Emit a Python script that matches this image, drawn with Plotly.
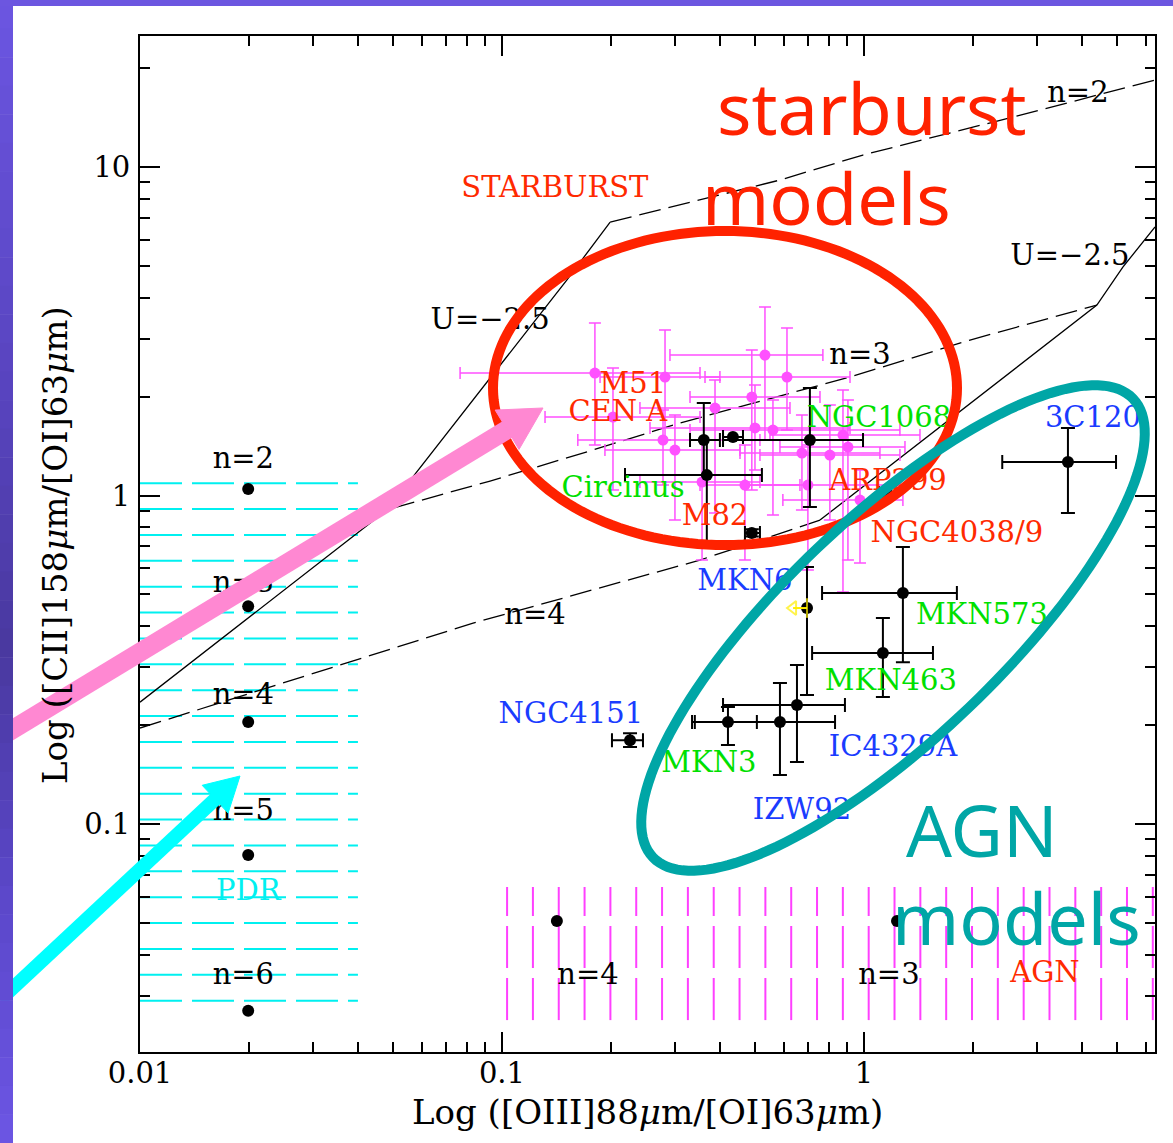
import numpy as np
import plotly.graph_objects as go

# ---------------- data (data units) ----------------
# model grid: constant-U solid lines and constant-density dashed lines
uA_x = [0.01, 0.0481, 0.151, 0.199]
uA_y = [0.235, 0.903, 4.53, 6.80]
uB_x = [0.756, 1.493, 4.40, 5.19, 6.37]
uB_y = [0.842, 1.507, 3.80, 4.96, 6.57]
n2_x = [0.199, 0.586, 0.993, 2.58, 6.37]
n2_y = [6.80, 9.13, 10.88, 14.2, 18.4]
n3_x = [0.050, 0.0927, 0.178, 0.310, 0.915, 1.963, 4.40]
n3_y = [0.916, 1.107, 1.375, 1.663, 2.295, 2.975, 3.80]
n4_x = [0.01, 0.0832, 0.352, 0.756]
n4_y = [0.196, 0.409, 0.636, 0.842]

# starburst galaxies (magenta)
sb_x   = [0.1806, 0.2821, 0.2026, 0.2785, 0.3005, 0.5327, 0.6128, 0.490, 0.3877, 0.4999,
          0.5605, 0.674, 0.805, 0.875, 0.903, 0.357, 0.469, 0.70, 0.975]
sb_xlo = [0.0766, 0.1866, 0.1315, 0.162, 0.1925, 0.2911, 0.3638, 0.3307, 0.2405, 0.2564,
          0.3307, 0.4545, 0.516, 0.55, 0.586, 0.2405, 0.3524, 0.469, 0.597]
sb_xhi = [0.3524, 0.400, 0.3524, 0.516, 0.4545, 0.770, 0.915, 0.756, 0.6246, 0.915,
          1.257, 1.107, 1.257, 1.428, 1.298, 0.516, 0.6655, 1.257, 1.281]
sb_y   = [2.36, 2.295, 1.734, 1.476, 1.375, 2.678, 2.295, 1.994, 1.847, 1.606,
          1.583, 1.347, 1.328, 1.528, 1.405, 1.099, 1.076, 1.076, 0.969]
sb_ylo = [1.424, 1.476, 1.039, 1.076, 0.842, 1.476, 1.583, 1.039, 0.885, 1.196,
          0.872, 0.903, 0.842, 0.5085, 0.636, 0.636, 0.636, 0.593, 0.623]
sb_yhi = [3.35, 3.19, 2.444, 1.821, 1.758, 3.748, 3.235, 2.773, 2.247, 2.17,
          1.953, 1.758, 1.886, 2.096, 1.953, 1.476, 1.424, 1.424, 1.196]

# Seyfert / AGN galaxies (black)
ag_x   = [3.66, 1.281, 1.128, 0.696, 0.653, 0.586, 0.421, 0.2258, 0.709, 0.361, 0.368, 0.4345, 0.490, 1.143]
ag_xlo = [2.41, 0.766, 0.719, 0.696, 0.408, 0.341, 0.335, 0.2013, 0.408, 0.3307, 0.2187, 0.408, 0.469, 1.10]
ag_xhi = [4.97, 1.806, 1.551, 0.696, 0.886, 0.832, 0.506, 0.2452, 0.994, 0.400, 0.5225, 0.4632, 0.516, 1.19]
ag_y   = [1.265, 0.505, 0.3315, 0.4545, 0.2302, 0.2044, 0.2044, 0.180, 1.476, 1.476, 1.154, 1.507, 0.769, 1.018]
ag_ylo = [0.885, 0.311, 0.2435, 0.247, 0.1544, 0.141, 0.174, 0.1716, 0.923, 1.154, 0.697, 1.507, 0.75, 1.0]
ag_yhi = [1.606, 0.697, 0.424, 0.606, 0.305, 0.2687, 0.227, 0.189, 2.124, 1.912, 1.476, 1.507, 0.79, 1.04]

# MKN6 upper limit arrow
lim_x = [0.696, 0.637]
lim_y = [0.4545, 0.4545]

# PDR model points and AGN model points
pdr_x = [0.0199, 0.0199, 0.0199, 0.0199, 0.0199]
pdr_y = [1.047, 0.46, 0.2044, 0.0805, 0.027]
agm_x = [0.1418, 1.234]
agm_y = [0.0507, 0.0507]

# hatched model regions (bounds, data units)
pdr_box = dict(x0=0.01, x1=0.04, y0=0.029, y1=1.09, n=21)
agn_box = dict(x0=0.1033, x1=6.28, y0=0.0253, y1=0.0643, n=26)

# text labels
lab_black_t = ["n=2", "n=3", "n=4", "n=5", "n=6", "n=4", "n=3",
               "U=\u22122.5", "U=\u22122.5", "n=2", "n=3", "n=4"]
lab_black_x = [0.0193, 0.0193, 0.0193, 0.0193, 0.0193, 0.1728, 1.172,
               0.0927, 3.707, 3.90, 0.975, 0.1234]
lab_black_y = [1.274, 0.534, 0.2435, 0.108, 0.0342, 0.0342, 0.0342,
               3.375, 5.28, 16.6, 2.64, 0.4267]

lab_red_t = ["STARBURST", "M51", "CEN A", "M82", "ARP299", "NGC4038/9", "AGN"]
lab_red_x = [0.140, 0.230, 0.209, 0.3877, 1.165, 1.806, 3.162]
lab_red_y = [8.51, 2.16, 1.77, 0.854, 1.091, 0.758, 0.0347]

lab_green_t = ["Circinus", "NGC1068", "MKN573", "MKN463", "MKN3"]
lab_green_x = [0.216, 1.10, 2.118, 1.187, 0.373]
lab_green_y = [1.039, 1.697, 0.4267, 0.2687, 0.1512]

lab_blue_t = ["3C120", "MKN6", "NGC4151", "IC4329A", "IZW92"]
lab_blue_x = [4.29, 0.469, 0.155, 1.203, 0.674]
lab_blue_y = [1.697, 0.5416, 0.2132, 0.1692, 0.1088]

lab_cyan_t = ["PDR"]
lab_cyan_x = [0.0199]
lab_cyan_y = [0.0617]

x_ticks = [0.01, 0.1, 1]
x_ticktext = ["0.01", "0.1", "1"]
y_ticks = [0.1, 1, 10]
y_ticktext = ["0.1", "1", "10"]

# ---------------- figure ----------------
W, H = 1173, 1143
ML, MR, MT, MB = 140, 18, 36, 91
PW, PH = W - ML - MR, H - MT - MB
X_RANGE = [-2.0, 0.804]
Y_RANGE = [-1.694, 1.399]

SERIF = "DejaVu Serif"
MAG = "#ff50ff"
RED = "#ff2a00"
GREEN = "#00e000"
BLUE = "#1a3cff"
CYAN = "#00f0f0"
LABEL_SIZE = 29

fig = go.Figure()

# hatching: PDR (cyan horizontal dashes)
for yv in np.logspace(np.log10(pdr_box["y0"]), np.log10(pdr_box["y1"]), pdr_box["n"]):
    fig.add_trace(go.Scatter(x=[pdr_box["x0"], pdr_box["x1"]], y=[yv, yv], mode="lines",
                             line=dict(color=CYAN, width=2, dash="42px,10px"),
                             hoverinfo="skip", showlegend=False))
# hatching: AGN (magenta vertical dashes)
for xv in np.logspace(np.log10(agn_box["x0"]), np.log10(agn_box["x1"]), agn_box["n"]):
    fig.add_trace(go.Scatter(x=[xv, xv], y=[agn_box["y0"], agn_box["y1"]], mode="lines",
                             line=dict(color="#ff40ff", width=2, dash="42px,10px"),
                             hoverinfo="skip", showlegend=False))

# model curves
for xs, ys, dash in [(uA_x, uA_y, "solid"), (uB_x, uB_y, "solid"),
                     (n2_x, n2_y, "22px,8px"), (n3_x, n3_y, "22px,8px"), (n4_x, n4_y, "22px,8px")]:
    fig.add_trace(go.Scatter(x=xs, y=ys, mode="lines",
                             line=dict(color="black", width=1.3, dash=dash),
                             hoverinfo="skip", showlegend=False))

def err(v, lo, hi):
    return (np.array(hi) - np.array(v)).tolist(), (np.array(v) - np.array(lo)).tolist()

sbx_p, sbx_m = err(sb_x, sb_xlo, sb_xhi)
sby_p, sby_m = err(sb_y, sb_ylo, sb_yhi)
fig.add_trace(go.Scatter(
    x=sb_x, y=sb_y, mode="markers",
    marker=dict(color=MAG, size=11),
    error_x=dict(type="data", symmetric=False, array=sbx_p, arrayminus=sbx_m,
                 color=MAG, thickness=1.5, width=6),
    error_y=dict(type="data", symmetric=False, array=sby_p, arrayminus=sby_m,
                 color=MAG, thickness=1.5, width=6),
    showlegend=False))

agx_p, agx_m = err(ag_x, ag_xlo, ag_xhi)
agy_p, agy_m = err(ag_y, ag_ylo, ag_yhi)
fig.add_trace(go.Scatter(
    x=ag_x, y=ag_y, mode="markers",
    marker=dict(color="black", size=12),
    error_x=dict(type="data", symmetric=False, array=agx_p, arrayminus=agx_m,
                 color="black", thickness=2, width=7),
    error_y=dict(type="data", symmetric=False, array=agy_p, arrayminus=agy_m,
                 color="black", thickness=2, width=7),
    showlegend=False))

fig.add_trace(go.Scatter(x=lim_x, y=lim_y, mode="lines+markers",
                         line=dict(color="#ffee00", width=2),
                         marker=dict(symbol=["line-ns", "triangle-left-open"], size=[14, 12],
                                     color="#ffee00", line=dict(color="#ffee00", width=2)),
                         showlegend=False))

fig.add_trace(go.Scatter(x=pdr_x + agm_x, y=pdr_y + agm_y, mode="markers",
                         marker=dict(color="black", size=12), showlegend=False))

for t, xs, ys, col in [(lab_black_t, lab_black_x, lab_black_y, "black"),
                       (lab_red_t, lab_red_x, lab_red_y, RED),
                       (lab_green_t, lab_green_x, lab_green_y, GREEN),
                       (lab_blue_t, lab_blue_x, lab_blue_y, BLUE),
                       (lab_cyan_t, lab_cyan_x, lab_cyan_y, CYAN)]:
    fig.add_trace(go.Scatter(x=xs, y=ys, text=t, mode="text", textposition="middle center",
                             textfont=dict(family=SERIF, size=LABEL_SIZE, color=col),
                             hoverinfo="skip", showlegend=False))

# ---------------- overlay decorations (slide annotations, pixel -> paper) ----------------
def px(xp):
    return (xp - ML) / PW

def py(yp):
    return (H - MB - yp) / PH

def ellipse_path(cx, cy, rx, ry, ang_deg, n=160):
    t = np.linspace(0, 2 * np.pi, n, endpoint=False)
    a = np.radians(ang_deg)
    xs = cx + rx * np.cos(t) * np.cos(a) - ry * np.sin(t) * np.sin(a)
    ys = cy + rx * np.cos(t) * np.sin(a) + ry * np.sin(t) * np.cos(a)
    return "M " + " L ".join(f"{px(x):.5f},{py(y):.5f}" for x, y in zip(xs, ys)) + " Z"

shapes = []
shapes.append(dict(type="path", xref="paper", yref="paper", layer="above",
                   path=ellipse_path(725, 388, 232, 157, 0),
                   line=dict(color="#ff2200", width=10)))
shapes.append(dict(type="path", xref="paper", yref="paper", layer="above",
                   path=ellipse_path(893, 628, 332, 110, -43.7),
                   line=dict(color="#00a6a6", width=10)))

def arrow(x0, y0, x1, y1, w, hl, hw, color):
    d = np.array([x1 - x0, y1 - y0], float)
    u = d / np.hypot(*d)
    nrm = np.array([-u[1], u[0]])
    base = np.array([x1, y1]) - hl * u
    c1 = base + hw * nrm
    c2 = base - hw * nrm
    out = [dict(type="line", xref="paper", yref="paper", layer="above",
                x0=px(x0), y0=py(y0), x1=px(base[0] + 2 * u[0]), y1=py(base[1] + 2 * u[1]),
                line=dict(color=color, width=w))]
    out.append(dict(type="path", xref="paper", yref="paper", layer="above",
                    path=f"M {px(x1):.5f},{py(y1):.5f} L {px(c1[0]):.5f},{py(c1[1]):.5f} "
                         f"L {px(c2[0]):.5f},{py(c2[1]):.5f} Z",
                    fillcolor=color, line=dict(color=color, width=1)))
    return out

shapes += arrow(0, 737, 543, 408, 19, 42, 23, "#ff88d2")
shapes += arrow(0, 1000, 240, 776, 14, 34, 19, "#00ffff")

# slide frame (purple border, top and left)
stops = [(0, (108, 86, 226)), (400, (88, 68, 190)), (650, (74, 57, 160)),
         (900, (92, 72, 202)), (1143, (108, 86, 228))]
nseg = 40
for i in range(nseg):
    ya, yb = H * i / nseg, H * (i + 1) / nseg
    ym = (ya + yb) / 2
    for j in range(len(stops) - 1):
        if stops[j][0] <= ym <= stops[j + 1][0]:
            f = (ym - stops[j][0]) / (stops[j + 1][0] - stops[j][0])
            c = [int(stops[j][1][k] + f * (stops[j + 1][1][k] - stops[j][1][k])) for k in range(3)]
            break
    shapes.append(dict(type="rect", xref="paper", yref="paper", layer="above",
                       x0=px(0), x1=px(13), y0=py(yb + 0.5), y1=py(ya),
                       fillcolor=f"rgb({c[0]},{c[1]},{c[2]})", line=dict(width=0)))
shapes.append(dict(type="rect", xref="paper", yref="paper", layer="above",
                   x0=px(0), x1=px(W), y0=py(6), y1=py(0),
                   fillcolor="rgb(108,86,224)", line=dict(width=0)))

annotations = []
HAND = "Noto Sans"
for txt, xc, yc, col in [("starburst", 872, 107, "#ff2200"), ("models", 826, 197, "#ff2200"),
                         ("AGN", 982, 829, "#00a6a6"), ("models", 1016, 917, "#00a6a6")]:
    annotations.append(dict(text=txt, x=px(xc), y=py(yc), xref="paper", yref="paper",
                            xanchor="center", yanchor="middle", showarrow=False,
                            font=dict(family=HAND, size=72, color=col)))

annotations.append(dict(text="Log ([OIII]88<i>\u03bc</i>m/[OI]63<i>\u03bc</i>m)",
                        x=px(647), y=py(1112), xref="paper", yref="paper",
                        xanchor="center", yanchor="middle", showarrow=False,
                        font=dict(family=SERIF, size=34, color="black")))
annotations.append(dict(text="Log ([CII]158<i>\u03bc</i>m/[OI]63<i>\u03bc</i>m)",
                        x=px(55), y=py(545), xref="paper", yref="paper", textangle=-90,
                        xanchor="center", yanchor="middle", showarrow=False,
                        font=dict(family=SERIF, size=34, color="black")))

x_minor = [m * 10.0 ** e for e in (-2, -1, 0) for m in range(2, 10) if m * 10.0 ** e < 6.4]
y_minor = [m * 10.0 ** e for e in (-2, -1, 0, 1) for m in range(2, 10) if 0.02 < m * 10.0 ** e < 25]

axis_common = dict(type="log", showgrid=False, zeroline=False, ticks="inside", ticklen=20,
                   tickwidth=1.6, tickcolor="black", showline=True, linecolor="black",
                   linewidth=1.8, mirror="allticks",
                   tickfont=dict(family=SERIF, size=29, color="black"))

fig.update_layout(
    width=W, height=H,
    margin=dict(l=ML, r=MR, t=MT, b=MB, pad=0),
    paper_bgcolor="white", plot_bgcolor="white",
    xaxis=dict(range=X_RANGE, tickmode="array", tickvals=x_ticks, ticktext=x_ticktext,
               minor=dict(tickmode="array", tickvals=x_minor, ticks="inside", ticklen=10,
                          tickwidth=1.6, tickcolor="black", showgrid=False),
               ticklabelstandoff=-6, **axis_common),
    yaxis=dict(range=Y_RANGE, tickmode="array", tickvals=y_ticks, ticktext=y_ticktext,
               minor=dict(tickmode="array", tickvals=y_minor, ticks="inside", ticklen=10,
                          tickwidth=1.6, tickcolor="black", showgrid=False),
               ticklabelstandoff=2, **axis_common),
    shapes=shapes, annotations=annotations, showlegend=False,
)

fig.write_html("out.html")
